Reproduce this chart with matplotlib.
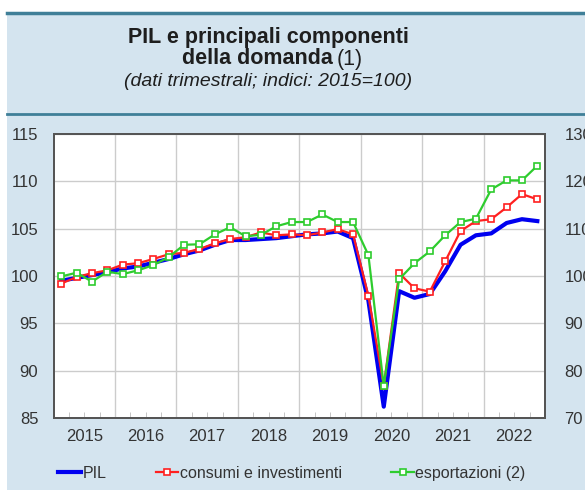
import numpy as np
import pandas as pd
import matplotlib
matplotlib.use("Agg")
import matplotlib.pyplot as plt
from matplotlib.patches import Rectangle
from matplotlib.lines import Line2D

plt.rcParams['font.family'] = ['Liberation Sans', 'DejaVu Sans']

# dati trimestrali 2015T1 - 2022T4
quarters = pd.period_range('2015Q1', '2022Q4', freq='Q')
pil = [99.5, 99.8, 100.1, 100.4, 100.8, 101.0, 101.4, 101.8,
       102.3, 102.7, 103.3, 103.8, 103.8, 103.9, 104.0, 104.2,
       104.4, 104.5, 104.7, 104.0, 97.4, 86.2, 98.4, 97.7,
       98.1, 100.5, 103.3, 104.3, 104.5, 105.6, 106.0, 105.8]
consumi = [99.2, 99.9, 100.3, 100.6, 101.2, 101.35, 101.8, 102.3,
           102.45, 102.85, 103.45, 103.9, 104.1, 104.6, 104.3, 104.4,
           104.3, 104.6, 104.95, 104.4, 97.9, 88.4, 100.3, 98.7,
           98.35, 101.55, 104.75, 105.8, 106.0, 107.25, 108.65, 108.1]
# esportazioni sulla scala di destra
esport = [99.9, 100.7, 98.8, 100.9, 100.4, 101.2, 102.3, 104.0,
          106.6, 106.7, 108.8, 110.3, 108.4, 108.7, 110.5, 111.4,
          111.4, 113.0, 111.4, 111.4, 104.4, 76.8, 99.3, 102.7,
          105.2, 108.6, 111.4, 112.1, 118.3, 120.2, 120.2, 123.3]
year_labels = ['2015', '2016', '2017', '2018', '2019', '2020', '2021', '2022']

x = np.array([q.year + (q.quarter - 0.5) / 4 for q in quarters])

bg = '#d4e4ef'
line_col = '#3f7f98'
txt = '#1e1e1e'

fig = plt.figure(figsize=(5.85, 4.9), dpi=100)
fig.patch.set_facecolor('white')
W, H = 585.0, 490.0
fig.patches.append(Rectangle((7 / W, 0), 1 - 7 / W, 1 - 13 / H,
                             transform=fig.transFigure, facecolor=bg,
                             edgecolor='none', zorder=-5))
fig.add_artist(Line2D([7 / W, 1], [1 - 13 / H, 1 - 13 / H], transform=fig.transFigure,
                      color=line_col, lw=2.5))
fig.add_artist(Line2D([7 / W, 1], [1 - 114 / H, 1 - 114 / H], transform=fig.transFigure,
                      color=line_col, lw=2.0))

# titolo
cx = 268 / W
fig.text(cx, 1 - 37 / H, 'PIL e principali componenti', ha='center', va='center',
         fontsize=15.5, fontweight='bold', color=txt)
fig.text(333 / W, 1 - 59 / H, 'della domanda', ha='right', va='center',
         fontsize=15.5, fontweight='bold', color=txt)
fig.text(337 / W, 1 - 59 / H, '(1)', ha='left', va='center',
         fontsize=15.5, color=txt)
fig.text(cx, 1 - 81 / H, '(dati trimestrali; indici: 2015=100)', ha='center', va='center',
         fontsize=14, style='italic', color=txt)

ax = fig.add_axes([53.6 / W, 1 - 418 / H, (545 - 53.6) / W, (418 - 134) / H])
ax.set_facecolor('white')
ax2 = ax.twinx()

ax.plot(x, pil, color='#0000f0', lw=3, zorder=3, label='PIL')
ax.plot(x, consumi, color='#ff2020', lw=1.6, marker='s', ms=4.3,
        mfc='white', mec='#ff2020', mew=1.2, zorder=4, label='consumi e investimenti')
ax2.plot(x, esport, color='#2ecc2e', lw=1.6, marker='s', ms=4.3,
         mfc='white', mec='#2ecc2e', mew=1.2, zorder=5, label='esportazioni (2)')

ax.set_xlim(2015, 2023)
ax.set_ylim(85, 115)
ax2.set_ylim(70, 130)
ax.set_yticks(np.arange(85, 116, 5))
ax2.set_yticks(np.arange(70, 131, 10))

# griglia verticale ai cambi d'anno, tacche trimestrali
ax.set_xticks(np.arange(2016, 2023), labels=[''] * 7)
qb = [v for v in np.arange(2015.25, 2023, 0.25) if v % 1 != 0]
ax.set_xticks(qb, labels=[year_labels[int(v) - 2015] if v % 1 == 0.5 else '' for v in qb],
              minor=True)
ax.tick_params(axis='x', which='major', length=0)
ax.tick_params(axis='x', which='minor', direction='in', length=4, color='#bbbbbb',
               labelsize=12, pad=8, labelcolor='#333333')
ax.tick_params(axis='y', length=0, labelsize=12, pad=11, labelcolor='#333333')
ax2.tick_params(axis='y', length=0, labelsize=12, pad=14, labelcolor='#333333')

ax.grid(True, which='major', color='#cccccc', lw=1)
ax.set_axisbelow(True)
for a in (ax, ax2):
    for s in a.spines.values():
        s.set_color('#555555')
        s.set_linewidth(1.4)

h1, l1 = ax.get_legend_handles_labels()
h2, l2 = ax2.get_legend_handles_labels()
fig.legend(h1 + h2, l1 + l2, loc='center', bbox_to_anchor=(292 / W, 1 - 473 / H),
           ncol=3, frameon=False, fontsize=11.5, handlelength=1.4, handletextpad=0.1,
           columnspacing=3.1, labelcolor='#333333')

fig.savefig('out.png', dpi=100, facecolor=fig.get_facecolor())
